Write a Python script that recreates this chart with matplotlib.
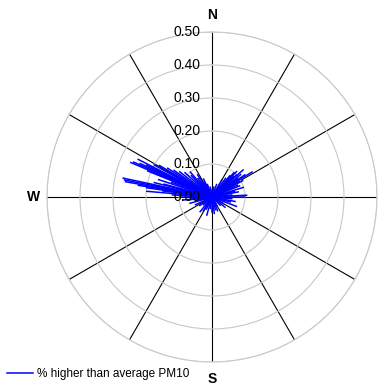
import numpy as np
import matplotlib
matplotlib.use("Agg")
import matplotlib.pyplot as plt

plt.rcParams['font.family'] = ['Liberation Sans', 'DejaVu Sans']

# direction (deg from north, clockwise) and fraction of higher-than-average PM10
directions = [0, 10, 20, 30, 36, 40, 42, 44, 46, 48, 49, 52, 54, 56, 58, 62, 65, 68,
              73, 76, 79, 84, 87, 90, 95, 101, 105, 111, 120, 128, 135, 150, 158,
              165, 172, 180, 188, 196, 205, 212, 219, 228, 235, 245, 254, 258, 263,
              264, 268, 270, 273, 275, 277, 278, 279, 280, 281, 282, 284, 285, 288,
              290, 292, 293, 294, 295, 296, 297, 299, 301, 303, 305, 308, 312, 316,
              319, 323, 327, 330, 335, 340, 350]
values = [0.02, 0.03, 0.04, 0.06, 0.07, 0.084, 0.099, 0.107, 0.09, 0.10, 0.125, 0.11,
          0.095, 0.12, 0.143, 0.105, 0.085, 0.09, 0.099, 0.07, 0.081, 0.06, 0.105, 0.10,
          0.06, 0.071, 0.057, 0.079, 0.04, 0.05, 0.035, 0.03, 0.045, 0.04, 0.05, 0.045,
          0.035, 0.057, 0.04, 0.05, 0.057, 0.035, 0.045, 0.055, 0.069, 0.05, 0.072,
          0.087, 0.06, 0.097, 0.12, 0.198, 0.15, 0.20, 0.226, 0.266, 0.27, 0.275,
          0.18, 0.15, 0.17, 0.13, 0.21, 0.267, 0.26, 0.24, 0.22, 0.251, 0.20, 0.185,
          0.16, 0.14, 0.124, 0.11, 0.09, 0.10, 0.07, 0.08, 0.05, 0.06, 0.04, 0.03]
ring_values = [0.0, 0.1, 0.2, 0.3, 0.4, 0.5]
ring_labels = ["0.00", "0.10", "0.20", "0.30", "0.40", "0.50"]
legend_label = "% higher than average PM10"

fig = plt.figure(figsize=(3.83, 3.87), dpi=100)
ax = fig.add_axes([47 / 383, 25 / 387, 330 / 383, 330 / 387], projection='polar')
ax.set_theta_zero_location('N')
ax.set_theta_direction(-1)
ax.set_ylim(0, 0.5)

th = np.deg2rad(directions)
for i in range(len(th)):
    ax.plot([th[i], th[i]], [0, values[i]], color='#0000ff', lw=1.1,
            label=legend_label if i == 0 else None)

ax.set_thetagrids(range(0, 360, 30), labels=[])
ax.set_rgrids(ring_values[1:], labels=[])
ax.xaxis.grid(True, color='black', lw=0.8)
ax.yaxis.grid(True, color='#c8c8c8', lw=0.8)
ax.spines['polar'].set_color('#c8c8c8')
ax.spines['polar'].set_linewidth(0.8)

for r, lab in zip(ring_values, ring_labels):
    ax.annotate(lab, xy=(0, r), xytext=(-8.5, 0), textcoords='offset points',
                ha='right', va='center', fontsize=10)

ax.annotate('N', xy=(0, 0.5), xytext=(0, 12), textcoords='offset points',
            ha='center', va='center', fontsize=10, fontweight='bold', annotation_clip=False)
ax.annotate('S', xy=(np.pi, 0.5), xytext=(0, -12), textcoords='offset points',
            ha='center', va='center', fontsize=10, fontweight='bold', annotation_clip=False)
ax.annotate('W', xy=(1.5 * np.pi, 0.5), xytext=(-10, 0), textcoords='offset points',
            ha='center', va='center', fontsize=10, fontweight='bold', annotation_clip=False)

fig.legend(loc='lower left', bbox_to_anchor=(0.0, 0.0), frameon=False, fontsize=8.5,
           handlelength=2.2, handletextpad=0.3, borderaxespad=0.2)

fig.savefig('out.png', dpi=100)
